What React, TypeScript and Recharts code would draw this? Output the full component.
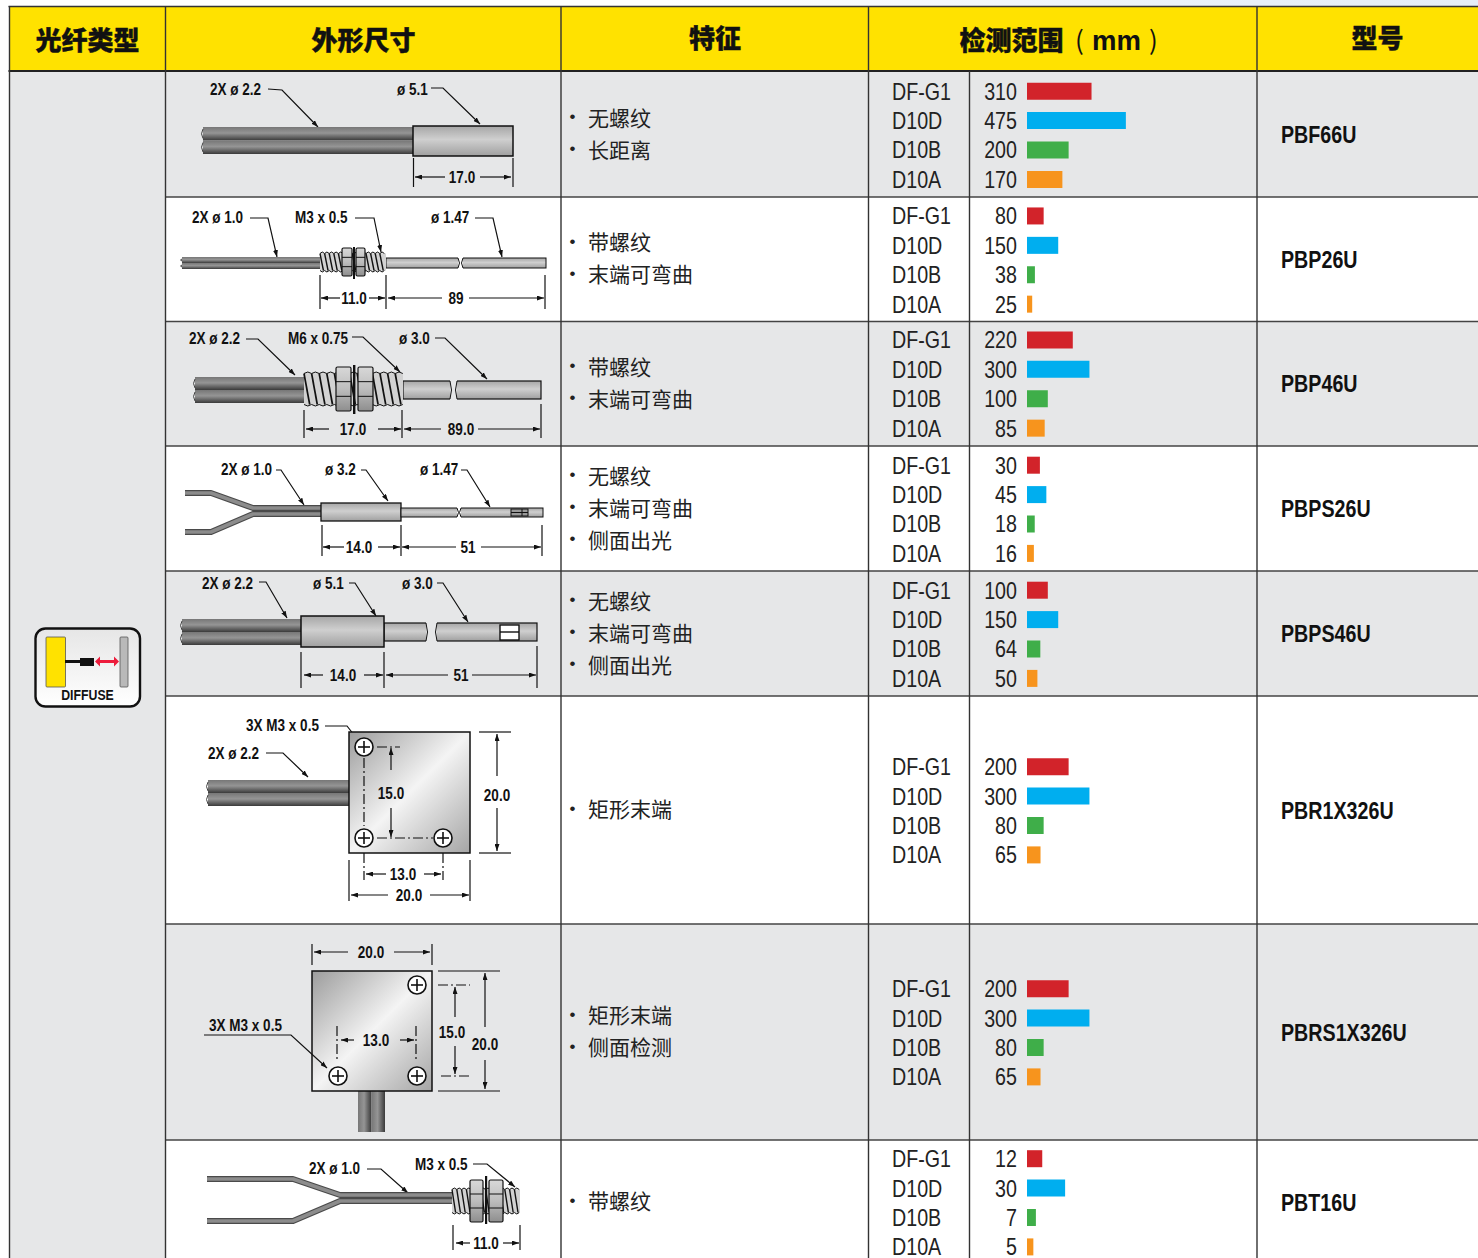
import React from "react";
import { BarChart, Bar, XAxis, YAxis, Cell } from "recharts";

// ---- data ----
const sensors = ["DF-G1", "D10D", "D10B", "D10A"];
const barColors = ["#d2232a", "#00aeef", "#3fae49", "#f7941d"];
const models = ["PBF66U", "PBP26U", "PBP46U", "PBPS26U", "PBPS46U", "PBR1X326U", "PBRS1X326U", "PBT16U"];
const ranges = [
    [310, 475, 200, 170],
    [80, 150, 38, 25],
    [220, 300, 100, 85],
    [30, 45, 18, 16],
    [100, 150, 64, 50],
    [200, 300, 80, 65],
    [200, 300, 80, 65],
    [12, 30, 7, 5],
];
// the printed bars do not share one scale: two rows are stretched
const axisMax = [1105, 1105, 1105, 535, 1105, 1105, 1105, 181];
const features = [
    ["无螺纹", "长距离"],
    ["带螺纹", "末端可弯曲"],
    ["带螺纹", "末端可弯曲"],
    ["无螺纹", "末端可弯曲", "侧面出光"],
    ["无螺纹", "末端可弯曲", "侧面出光"],
    ["矩形末端"],
    ["矩形末端", "侧面检测"],
    ["带螺纹"],
];

const rowLines = [72, 197, 321.5, 446, 571, 696, 924, 1140, 1264];
const colLines = [9.5, 165.5, 561, 868.5, 969.5, 1257];

const GRAY = "#e6e7e8";
const SANS = "'Liberation Sans', Arial, sans-serif";
const CJK = "'Noto Sans CJK SC', sans-serif";
const BAND = 29.4;
const SQUEEZE = 0.82; // no condensed face installed, so squeeze Liberation Sans

// condensed text, x is where the anchor sits
const Narrow = ({ x, y, t, size, bold, anchor = "start", fill = "#111" }: any) => (
    <text
        transform={`translate(${x} ${y}) scale(${SQUEEZE} 1)`}
        fontFamily={SANS}
        fontWeight={bold ? "bold" : "normal"}
        fontSize={size}
        textAnchor={anchor}
        dominantBaseline="central"
        fill={fill}
    >
        {t}
    </text>
);

// ---- drawing bits for the dimension sketches ----
const Lbl = ({ x, y, t, anchor = "start" }: any) => <Narrow x={x} y={y} t={t} size={16.5} bold anchor={anchor} />;
const Dim = ({ x1, y1, x2, y2 }: any) => (
    <line x1={x1} y1={y1} x2={x2} y2={y2} stroke="#111" strokeWidth={1.2} markerEnd="url(#arrow)" />
);
const Ln = ({ x1, y1, x2, y2, dash }: any) => (
    <line x1={x1} y1={y1} x2={x2} y2={y2} stroke="#111" strokeWidth={1.2} strokeDasharray={dash} />
);
const Leader = ({ pts }: any) => (
    <polyline points={pts} fill="none" stroke="#111" strokeWidth={1.2} markerEnd="url(#arrow)" />
);
const Twin = ({ x1, x2, y, h }: any) => (
    <g>
        <rect x={x1} y={y} width={x2 - x1} height={h} fill="url(#strand)" />
        <rect x={x1} y={y + h} width={x2 - x1} height={h} fill="url(#strand)" />
        <path d={`M${x1} ${y + 2} q-3 ${h / 2 - 2} 0 ${h - 4} M${x1} ${y + h + 2} q-3 ${h / 2 - 2} 0 ${h - 4}`} fill="none" stroke="#444" strokeWidth={1} />
    </g>
);
const Sleeve = ({ x1, x2, y1, y2, w = 1.5 }: any) => (
    <rect x={x1} y={y1} width={x2 - x1} height={y2 - y1} fill="url(#sleeve)" stroke="#111" strokeWidth={w} />
);
const Break = ({ x1, x2, y1, y2, bg }: any) => (
    <g>
        <rect x={x1} y={y1 - 1} width={x2 - x1} height={y2 - y1 + 2} fill={bg} />
        <path d={`M${x1} ${y1} q3 ${(y2 - y1) / 2} 0 ${y2 - y1} M${x2} ${y1} q-3 ${(y2 - y1) / 2} 0 ${y2 - y1}`} fill="none" stroke="#111" strokeWidth={1} />
    </g>
);
const Thread = ({ x1, x2, y1, y2, pitch }: any) => {
    const n = Math.floor((x2 - x1) / pitch);
    const w = pitch > 6 ? 1.7 : 1.4;
    return (
        <g>
            <rect x={x1} y={y1 + 1.5} width={x2 - x1} height={y2 - y1 - 3} fill="#d2d2d2" />
            {Array.from({ length: n }).map((_, i) => (
                <g key={i}>
                    <path d={`M${x1 + i * pitch} ${y1 + 1.5} q${pitch / 2} -3 ${pitch} 0`} fill="#d2d2d2" stroke="#111" strokeWidth={1} />
                    <path d={`M${x1 + i * pitch} ${y2 - 1.5} q${pitch / 2} 3 ${pitch} 0`} fill="#d2d2d2" stroke="#111" strokeWidth={1} />
                    <line x1={x1 + i * pitch} y1={y1 + 1.5} x2={x1 + i * pitch + pitch * 0.75} y2={y2 - 1.5} stroke="#111" strokeWidth={w} />
                </g>
            ))}
        </g>
    );
};
const Nut = ({ x1, x2, y1, y2 }: any) => {
    const s = (y2 - y1) / 3;
    return (
        <g>
            <rect x={x1} y={y1} width={x2 - x1} height={y2 - y1} rx={1.5} fill="url(#nut)" stroke="#111" strokeWidth={1.2} />
            <line x1={x1} y1={y1 + s} x2={x2} y2={y1 + s} stroke="#111" strokeWidth={1} />
            <line x1={x1} y1={y2 - s} x2={x2} y2={y2 - s} stroke="#111" strokeWidth={1} />
        </g>
    );
};
const Screw = ({ x, y }: any) => (
    <g>
        <circle cx={x} cy={y} r={9} fill="#fff" stroke="#111" strokeWidth={1.6} />
        <line x1={x - 6} y1={y} x2={x + 6} y2={y} stroke="#111" strokeWidth={1.6} />
        <line x1={x} y1={y - 6} x2={x} y2={y + 6} stroke="#111" strokeWidth={1.6} />
    </g>
);
const Fiber = ({ pts }: any) => (
    <g>
        <polyline points={pts} fill="none" stroke="#4a4a4a" strokeWidth={6} strokeLinejoin="round" />
        <polyline points={pts} fill="none" stroke="#8c8c8c" strokeWidth={3.6} strokeLinejoin="round" />
    </g>
);

const Sketches = () => (
    <g>
        {/* PBF66U */}
        <Lbl x={210} y={89} t="2X ø 2.2" />
        <Leader pts="268,89 282,90 318,127" />
        <Lbl x={397} y={89} t="ø 5.1" />
        <Leader pts="431,88 443,88 480,124" />
        <Twin x1={203} x2={413} y={127} h={13.5} />
        <Sleeve x1={413} x2={513} y1={126} y2={156} />
        <Ln x1={413.5} y1={158} x2={413.5} y2={187} />
        <Ln x1={513} y1={158} x2={513} y2={187} />
        <Dim x1={445} y1={177} x2={415} y2={177} />
        <Dim x1={480} y1={177} x2={511} y2={177} />
        <Lbl x={462} y={177} t="17.0" anchor="middle" />

        {/* PBP26U */}
        <Lbl x={192} y={217} t="2X ø 1.0" />
        <Leader pts="250,218 268,218 277,257" />
        <Lbl x={295} y={217} t="M3 x 0.5" />
        <Leader pts="355,218 374,218 381,252" />
        <Lbl x={431} y={217} t="ø 1.47" />
        <Leader pts="475,218 493,218 502,257" />
        <Twin x1={182} x2={320} y={257} h={6} />
        <Sleeve x1={386} x2={546} y1={258} y2={268} w={1} />
        <Break x1={458} x2={463} y1={258} y2={268} bg="#fff" />
        <Thread x1={320} x2={386} y1={252} y2={272} pitch={4.6} />
        <Nut x1={342} x2={352} y1={248} y2={276} />
        <Nut x1={356} x2={365} y1={248} y2={276} />
        <rect x={353} y={247} width={2} height={32} fill="#111" />
        <Ln x1={320} y1={275} x2={320} y2={309} />
        <Ln x1={386} y1={275} x2={386} y2={309} />
        <Ln x1={545} y1={275} x2={545} y2={309} />
        <Dim x1={340} y1={298} x2={321} y2={298} />
        <Dim x1={369} y1={298} x2={385} y2={298} />
        <Lbl x={354} y={298} t="11.0" anchor="middle" />
        <Dim x1={442} y1={298} x2={388} y2={298} />
        <Dim x1={469} y1={298} x2={544} y2={298} />
        <Lbl x={456} y={298} t="89" anchor="middle" />

        {/* PBP46U */}
        <Lbl x={189} y={338} t="2X ø 2.2" />
        <Leader pts="246,339 258,339 295,375" />
        <Lbl x={288} y={338} t="M6 x 0.75" />
        <Leader pts="352,337 363,337 400,372" />
        <Lbl x={399} y={338} t="ø 3.0" />
        <Leader pts="435,338 445,338 487,379" />
        <Twin x1={195} x2={304} y={377} h={13} />
        <Sleeve x1={403} x2={541} y1={381} y2={399} w={1.2} />
        <Break x1={450} x2={457} y1={381} y2={399} bg={GRAY} />
        <Thread x1={304} x2={403} y1={372} y2={406} pitch={7.6} />
        <Nut x1={336} x2={351} y1={367} y2={411} />
        <Nut x1={358} x2={373} y1={367} y2={411} />
        <rect x={353} y={365} width={2.4} height={49} fill="#111" />
        <Ln x1={304} y1={410} x2={304} y2={438} />
        <Ln x1={402} y1={410} x2={402} y2={438} />
        <Ln x1={541} y1={404} x2={541} y2={438} />
        <Dim x1={329} y1={429} x2={306} y2={429} />
        <Dim x1={378} y1={429} x2={401} y2={429} />
        <Lbl x={353} y={429} t="17.0" anchor="middle" />
        <Dim x1={441} y1={429} x2={404} y2={429} />
        <Dim x1={478} y1={429} x2={540} y2={429} />
        <Lbl x={461} y={429} t="89.0" anchor="middle" />

        {/* PBPS26U */}
        <Lbl x={221} y={469} t="2X ø 1.0" />
        <Leader pts="276,470 281,470 304,505" />
        <Lbl x={325} y={469} t="ø 3.2" />
        <Leader pts="361,470 366,470 388,501" />
        <Lbl x={420} y={469} t="ø 1.47" />
        <Leader pts="461,470 467,470 490,507" />
        <Fiber pts="185,493 211,493 253,508 321,508" />
        <Fiber pts="185,532 211,532 253,514 321,514" />
        <Sleeve x1={321} x2={401} y1={503} y2={521} w={1.3} />
        <Sleeve x1={401} x2={543} y1={508} y2={517} w={1} />
        <Break x1={457} x2={461} y1={508} y2={517} bg="#fff" />
        <rect x={511} y={509} width={17} height={7} fill="#999" stroke="#111" strokeWidth={1} />
        <line x1={511} y1={512.5} x2={528} y2={512.5} stroke="#111" />
        <line x1={522} y1={509} x2={522} y2={516} stroke="#111" />
        <Ln x1={322} y1={525} x2={322} y2={556} />
        <Ln x1={401} y1={525} x2={401} y2={556} />
        <Ln x1={542} y1={525} x2={542} y2={556} />
        <Dim x1={344} y1={547} x2={323} y2={547} />
        <Dim x1={378} y1={547} x2={400} y2={547} />
        <Lbl x={359} y={547} t="14.0" anchor="middle" />
        <Dim x1={456} y1={547} x2={402} y2={547} />
        <Dim x1={481} y1={547} x2={541} y2={547} />
        <Lbl x={468} y={547} t="51" anchor="middle" />

        {/* PBPS46U */}
        <Lbl x={202} y={583} t="2X ø 2.2" />
        <Leader pts="259,582 266,582 287,618" />
        <Lbl x={313} y={583} t="ø 5.1" />
        <Leader pts="349,583 355,583 376,616" />
        <Lbl x={402} y={583} t="ø 3.0" />
        <Leader pts="437,583 443,583 468,622" />
        <Twin x1={182} x2={301} y={619} h={13} />
        <Sleeve x1={384} x2={537} y1={623} y2={641} w={1.2} />
        <Break x1={426} x2={437} y1={623} y2={641} bg={GRAY} />
        <Sleeve x1={301} x2={384} y1={616} y2={647} />
        <rect x={500} y={625} width={19} height={15} fill="#fff" stroke="#111" strokeWidth={1.4} />
        <line x1={500} y1={632} x2={519} y2={632} stroke="#111" strokeWidth={1.4} />
        <Ln x1={301} y1={652} x2={301} y2={688} />
        <Ln x1={384} y1={652} x2={384} y2={688} />
        <Ln x1={537} y1={646} x2={537} y2={688} />
        <Dim x1={323} y1={675} x2={304} y2={675} />
        <Dim x1={364} y1={675} x2={383} y2={675} />
        <Lbl x={343} y={675} t="14.0" anchor="middle" />
        <Dim x1={448} y1={675} x2={386} y2={675} />
        <Dim x1={472} y1={675} x2={536} y2={675} />
        <Lbl x={461} y={675} t="51" anchor="middle" />

        {/* PBR1X326U */}
        <Lbl x={246} y={725} t="3X M3 x 0.5" />
        <Leader pts="325,726 347,726 358,740" />
        <Lbl x={208} y={753} t="2X ø 2.2" />
        <Leader pts="266,753 283,753 308,777" />
        <Twin x1={208} x2={349} y={780} h={13} />
        <rect x={349} y={732} width={121} height={121} fill="url(#block)" stroke="#111" strokeWidth={1.5} />
        <Ln x1={364} y1={758} x2={364} y2={826} dash="10 3 2 3" />
        <Ln x1={377} y1={747} x2={400} y2={747} dash="10 3 2 3" />
        <Ln x1={377} y1={838} x2={433} y2={838} dash="10 3 2 3" />
        <Screw x={364} y={747} />
        <Screw x={364} y={838} />
        <Screw x={443} y={838} />
        <Dim x1={391} y1={770} x2={391} y2={748} />
        <Dim x1={391} y1={808} x2={391} y2={837} />
        <Lbl x={391} y={793} t="15.0" anchor="middle" />
        <Ln x1={479} y1={732} x2={511} y2={732} />
        <Ln x1={479} y1={853} x2={511} y2={853} />
        <Dim x1={497} y1={776} x2={497} y2={734} />
        <Dim x1={497} y1={808} x2={497} y2={851} />
        <Lbl x={497} y={795} t="20.0" anchor="middle" />
        <Ln x1={349} y1={860} x2={349} y2={901} />
        <Ln x1={470} y1={860} x2={470} y2={901} />
        <Ln x1={364} y1={853} x2={364} y2={880} dash="10 3 2 3" />
        <Ln x1={443} y1={853} x2={443} y2={880} dash="10 3 2 3" />
        <Dim x1={386} y1={874} x2={366} y2={874} />
        <Dim x1={424} y1={874} x2={441} y2={874} />
        <Lbl x={403} y={874} t="13.0" anchor="middle" />
        <Dim x1={388} y1={895} x2={351} y2={895} />
        <Dim x1={430} y1={895} x2={469} y2={895} />
        <Lbl x={409} y={895} t="20.0" anchor="middle" />

        {/* PBRS1X326U */}
        <Ln x1={312} y1={944} x2={312} y2={965} />
        <Ln x1={432} y1={944} x2={432} y2={965} />
        <Dim x1={348} y1={952} x2={314} y2={952} />
        <Dim x1={394} y1={952} x2={430} y2={952} />
        <Lbl x={371} y={952} t="20.0" anchor="middle" />
        <rect x={358} y={1091} width={13.5} height={41} fill="url(#strandV)" />
        <rect x={371.5} y={1091} width={13.5} height={41} fill="url(#strandV)" />
        <rect x={312} y={971} width={120} height={120} fill="url(#block)" stroke="#111" strokeWidth={1.5} />
        <Screw x={417} y={985} />
        <Screw x={338} y={1076} />
        <Screw x={417} y={1076} />
        <Lbl x={209} y={1025} t="3X M3 x 0.5" />
        <Leader pts="204,1035 291,1035 327,1068" />
        <Ln x1={337} y1={1026} x2={337} y2={1062} dash="10 3 2 3" />
        <Ln x1={416} y1={1026} x2={416} y2={1062} dash="10 3 2 3" />
        <Dim x1={354} y1={1040} x2={341} y2={1040} />
        <Dim x1={400} y1={1040} x2={414} y2={1040} />
        <Lbl x={376} y={1040} t="13.0" anchor="middle" />
        <Ln x1={438} y1={971} x2={500} y2={971} />
        <Ln x1={438} y1={1091} x2={500} y2={1091} />
        <Dim x1={485} y1={1027} x2={485} y2={973} />
        <Dim x1={485} y1={1060} x2={485} y2={1089} />
        <Lbl x={485} y={1044} t="20.0" anchor="middle" />
        <Ln x1={438} y1={985} x2={470} y2={985} dash="10 3 2 3" />
        <Ln x1={441} y1={1076} x2={470} y2={1076} dash="10 3 2 3" />
        <Dim x1={455} y1={1017} x2={455} y2={987} />
        <Dim x1={455} y1={1046} x2={455} y2={1074} />
        <Lbl x={452} y={1032} t="15.0" anchor="middle" />

        {/* PBT16U */}
        <Lbl x={309} y={1168} t="2X ø 1.0" />
        <Leader pts="367,1169 381,1169 408,1193" />
        <Lbl x={415} y={1164} t="M3 x 0.5" />
        <Leader pts="473,1164 487,1164 515,1187" />
        <Fiber pts="207,1179 293,1179 340,1195 452,1195" />
        <Fiber pts="207,1221 293,1221 340,1201 452,1201" />
        <Thread x1={452} x2={520} y1={1188} y2={1214} pitch={4.8} />
        <Nut x1={470} x2={483} y1={1180} y2={1222} />
        <Nut x1={489} x2={503} y1={1180} y2={1222} />
        <rect x={485} y={1176} width={2.2} height={48} fill="#111" />
        <Ln x1={453} y1={1225} x2={453} y2={1250} />
        <Ln x1={520} y1={1225} x2={520} y2={1250} />
        <Dim x1={470} y1={1243} x2={456} y2={1243} />
        <Dim x1={503} y1={1243} x2={519} y2={1243} />
        <Lbl x={486} y={1243} t="11.0" anchor="middle" />
    </g>
);

const DiffuseIcon = () => (
    <g>
        <rect x={35.5} y={628.5} width={104.5} height={78} rx={10} fill="url(#badge)" stroke="#111" strokeWidth={2.4} />
        <rect x={46} y={637} width={19.5} height={50} rx={1} fill="#ffe200" stroke="#555" strokeWidth={0.8} />
        <rect x={120} y={637} width={8} height={50} rx={1} fill="#b9b9b9" stroke="#555" strokeWidth={0.8} />
        <rect x={65} y={660} width={15} height={3} fill="#111" />
        <rect x={80} y={658} width={14} height={8} fill="#111" />
        <line x1={99} y1={661.5} x2={115} y2={661.5} stroke="#ed1c3c" strokeWidth={3} />
        <path d="M95 661.5 l5 -5 v10 z M119 661.5 l-5 -5 v10 z" fill="#ed1c3c" />
        <Narrow x={87.5} y={695} t="DIFFUSE" size={15} bold anchor="middle" />
    </g>
);

const Head = ({ x, y = 38.5, t }: any) => (
    <text x={x} y={y} fontFamily={CJK} fontWeight={900} fontSize={26} textAnchor="middle" dominantBaseline="central" fill="#111" stroke="#111" strokeWidth={0.4}>{t}</text>
);

const Sheet = () => (
    <svg width={1478} height={1258} style={{ position: "absolute", left: 0, top: 0 }}>
        <defs>
            <marker id="arrow" markerWidth={7} markerHeight={5} refX={7} refY={2.5} orient="auto" markerUnits="userSpaceOnUse">
                <path d="M0 0 L7 2.5 L0 5 z" fill="#111" />
            </marker>
            <linearGradient id="topStrip" x1="0" y1="0" x2="1" y2="0">
                <stop offset="0.45" stopColor="#ffffff" />
                <stop offset="0.85" stopColor="#e8f0f8" />
                <stop offset="1" stopColor="#e6eef7" />
            </linearGradient>
            <linearGradient id="strand" x1="0" y1="0" x2="0" y2="1">
                <stop offset="0" stopColor="#777" />
                <stop offset="0.45" stopColor="#959595" />
                <stop offset="1" stopColor="#3a3a3a" />
            </linearGradient>
            <linearGradient id="strandV" x1="0" y1="0" x2="1" y2="0">
                <stop offset="0" stopColor="#777" />
                <stop offset="0.45" stopColor="#959595" />
                <stop offset="1" stopColor="#3a3a3a" />
            </linearGradient>
            <linearGradient id="sleeve" x1="0" y1="0" x2="0" y2="1">
                <stop offset="0" stopColor="#a6a6a6" />
                <stop offset="0.45" stopColor="#cfcfcf" />
                <stop offset="1" stopColor="#a0a0a0" />
            </linearGradient>
            <linearGradient id="nut" x1="0" y1="0" x2="0" y2="1">
                <stop offset="0" stopColor="#d8d8d8" />
                <stop offset="0.5" stopColor="#bdbdbd" />
                <stop offset="1" stopColor="#8e8e8e" />
            </linearGradient>
            <linearGradient id="block" x1="0" y1="0" x2="1" y2="1">
                <stop offset="0" stopColor="#9c9c9c" />
                <stop offset="0.5" stopColor="#f4f4f4" />
                <stop offset="1" stopColor="#a5a5a5" />
            </linearGradient>
            <linearGradient id="badge" x1="0" y1="0" x2="0" y2="1">
                <stop offset="0" stopColor="#e6e6e6" />
                <stop offset="1" stopColor="#ffffff" />
            </linearGradient>
        </defs>

        {/* fills */}
        <rect x={0} y={0} width={1478} height={6} fill="url(#topStrip)" />
        <rect x={colLines[0]} y={7} width={1478 - colLines[0]} height={64} fill="#ffe200" />
        <rect x={colLines[0]} y={72} width={colLines[1] - colLines[0]} height={1186} fill={GRAY} />
        {models.map((m, i) => (
            <rect key={m} x={colLines[1]} y={rowLines[i]} width={1478 - colLines[1]} height={rowLines[i + 1] - rowLines[i]} fill={i % 2 === 0 ? GRAY : "#fff"} />
        ))}

        {/* rules */}
        <line x1={colLines[0] - 1} y1={6.5} x2={1478} y2={6.5} stroke="#333" strokeWidth={1.5} />
        <line x1={colLines[0] - 1} y1={71} x2={1478} y2={71} stroke="#222" strokeWidth={2.2} />
        {rowLines.slice(1, 8).map((y) => (
            <line key={y} x1={colLines[1]} y1={y} x2={1478} y2={y} stroke="#444" strokeWidth={1.5} />
        ))}
        {colLines.map((x, i) => (
            <line key={x} x1={x} y1={i === 4 ? 71 : 6} x2={x} y2={1258} stroke="#333" strokeWidth={1.4} />
        ))}

        {/* headers */}
        <Head x={87.5} t="光纤类型" />
        <Head x={363.5} t="外形尺寸" />
        <Head x={715} y={36.5} t="特征" />
        <Head x={1011.5} t="检测范围" />
        <text x={1075} y={38.5} fontFamily={CJK} fontSize={26} dominantBaseline="central" fill="#111">(</text>
        <text x={1116.5} y={40} fontFamily={SANS} fontWeight="bold" fontSize={27.5} textAnchor="middle" dominantBaseline="central" fill="#111">mm</text>
        <text x={1149} y={38.5} fontFamily={CJK} fontSize={26} dominantBaseline="central" fill="#111">)</text>
        <Head x={1377.5} y={36.5} t="型号" />

        <DiffuseIcon />
        <Sketches />

        {/* feature bullets and model names */}
        {features.map((list, i) => {
            const mid = (rowLines[i] + rowLines[i + 1]) / 2 - 2;
            return list.map((f, j) => {
                const y = mid + (j - (list.length - 1) / 2) * 32;
                return (
                    <g key={i + f}>
                        <text x={569.5} y={y} fontFamily={SANS} fontSize={17} dominantBaseline="central" fill="#222">•</text>
                        <text x={588} y={y} fontFamily={CJK} fontSize={21} dominantBaseline="central" fill="#222">{f}</text>
                    </g>
                );
            });
        })}
        {models.map((m, i) => (
            <Narrow key={m} x={1281} y={(rowLines[i] + rowLines[i + 1]) / 2 + 0.5} t={m} size={24} bold />
        ))}
    </svg>
);

const RangeChart = ({ row }: { row: number }) => {
    const values = ranges[row];
    const data = sensors.map((name, i) => ({ name, value: values[i] }));
    const height = rowLines[row + 1] - rowLines[row];
    const pad = (height - BAND * sensors.length) / 2;
    const renderTick = (p: any) => (
        <g>
            <Narrow x={22} y={p.y} t={p.payload.value} size={24} fill="#222" />
            <Narrow x={147} y={p.y} t={values[p.index]} size={24} anchor="end" fill="#222" />
        </g>
    );
    return (
        <div style={{ position: "absolute", left: 870, top: rowLines[row] + 0.5 }}>
            <BarChart
                layout="vertical"
                width={387}
                height={height}
                data={data}
                margin={{ top: pad, bottom: pad, left: 0, right: 0 }}
                barCategoryGap={0}
            >
                <XAxis type="number" domain={[0, axisMax[row]]} hide />
                <YAxis type="category" dataKey="name" width={157} axisLine={false} tickLine={false} interval={0} tick={renderTick} />
                <Bar dataKey="value" barSize={17} isAnimationActive={false}>
                    {data.map((d, i) => (
                        <Cell key={d.name} fill={barColors[i]} />
                    ))}
                </Bar>
            </BarChart>
        </div>
    );
};

export default function App() {
    return (
        <div style={{ position: "absolute", left: 0, top: 0, width: 1478, height: 1258, overflow: "hidden", background: "#fff" }}>
            <Sheet />
            {models.map((m, i) => (
                <RangeChart key={m} row={i} />
            ))}
        </div>
    );
}
